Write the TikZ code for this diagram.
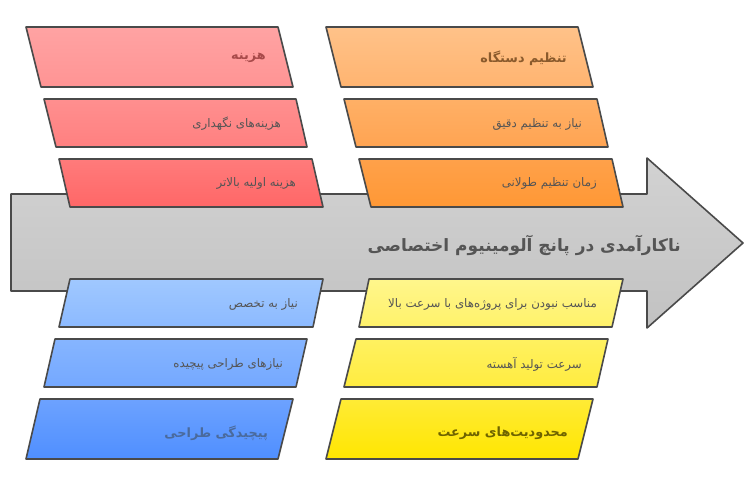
\documentclass[tikz,border=0pt]{standalone}
\usepackage{fontspec}
\TeXXeTstate=1
\newfontfamily\arabicfont[Script=Arabic]{DejaVu Sans}
\definecolor{edge}{HTML}{4A4A4A}
\definecolor{redA}{HTML}{FFA3A3}\definecolor{redB}{HTML}{FF9494}
\definecolor{redC}{HTML}{FF8F8F}\definecolor{redD}{HTML}{FF8080}
\definecolor{redE}{HTML}{FF7B7B}\definecolor{redF}{HTML}{FF6767}
\definecolor{orA}{HTML}{FFC289}\definecolor{orB}{HTML}{FFB470}
\definecolor{orC}{HTML}{FFB066}\definecolor{orD}{HTML}{FFA452}
\definecolor{orE}{HTML}{FFA14A}\definecolor{orF}{HTML}{FF9835}
\definecolor{blA}{HTML}{A0C8FF}\definecolor{blB}{HTML}{8CBAFF}
\definecolor{blC}{HTML}{86B5FF}\definecolor{blD}{HTML}{74A8FF}
\definecolor{blE}{HTML}{6DA2FF}\definecolor{blF}{HTML}{4F8FFF}
\definecolor{yeA}{HTML}{FFF68C}\definecolor{yeB}{HTML}{FFF26A}
\definecolor{yeC}{HTML}{FFF160}\definecolor{yeD}{HTML}{FFEC40}
\definecolor{yeE}{HTML}{FFEB36}\definecolor{yeF}{HTML}{FFE600}
\definecolor{grA}{HTML}{D2D2D2}\definecolor{grB}{HTML}{C2C2C2}
\definecolor{redT}{HTML}{A84A4A}\definecolor{orT}{HTML}{8A5A2C}
\definecolor{blT}{HTML}{4A6A9C}\definecolor{yeT}{HTML}{6E6300}
\definecolor{smallT}{HTML}{555555}
\tikzset{
  box/.style={draw=edge, line width=1.6pt, line join=round},
  small/.style={anchor=east, inner sep=0pt, text=smallT, font=\arabicfont\fontsize{11.8}{13}\selectfont},
  title/.style={anchor=east, inner sep=0pt, font=\arabicfont\bfseries\fontsize{12.8}{15}\selectfont},
  main/.style={anchor=east, inner sep=0pt, text=smallT, font=\arabicfont\bfseries\fontsize{17}{20}\selectfont}
}
\begin{document}
\begin{tikzpicture}[x=1pt,y=-1pt]
\useasboundingbox (0,0) rectangle (746,481);
% main arrow
\path[box, top color=grA, bottom color=grB]
  (11,194) -- (647,194) -- (647,158) -- (743,243) -- (647,328) -- (647,291) -- (11,291) -- cycle;
\node[main] (mainT) at (681,245) {\beginR ناکارآمدی در پانچ آلومینیوم اختصاصی\endR};
% red column
\path[box, top color=redA, bottom color=redB] (26,27) -- (278,27) -- (293,87) -- (41,87) -- cycle;
\path[box, top color=redC, bottom color=redD] (44,99) -- (296,99) -- (307,147) -- (56,147) -- cycle;
\path[box, top color=redE, bottom color=redF] (59,159) -- (312,159) -- (323,207) -- (70,207) -- cycle;
\node[title, text=redT] (r1) at (266,58) {\beginR هزینه\endR};
\node[small] (r2) at (281,124) {\beginR هزینه‌های نگهداری\endR};
\node[small] (r3) at (296,183) {\beginR هزینه اولیه بالاتر\endR};
% orange column
\path[box, top color=orA, bottom color=orB] (326,27) -- (578,27) -- (593,87) -- (341,87) -- cycle;
\path[box, top color=orC, bottom color=orD] (344,99) -- (597,99) -- (608,147) -- (356,147) -- cycle;
\path[box, top color=orE, bottom color=orF] (359,159) -- (612,159) -- (623,207) -- (371,207) -- cycle;
\node[title, text=orT] (o1) at (567,58) {\beginR تنظیم دستگاه\endR};
\node[small] (o2) at (582,124) {\beginR نیاز به تنظیم دقیق\endR};
\node[small] (o3) at (597,183) {\beginR زمان تنظیم طولانی\endR};
% blue column
\path[box, top color=blA, bottom color=blB] (70,279) -- (323,279) -- (313,327) -- (59,327) -- cycle;
\path[box, top color=blC, bottom color=blD] (55,339) -- (307,339) -- (296,387) -- (44,387) -- cycle;
\path[box, top color=blE, bottom color=blF] (40,399) -- (293,399) -- (278,459) -- (26,459) -- cycle;
\node[small] (b1) at (298,304) {\beginR نیاز به تخصص\endR};
\node[small] (b2) at (283,364) {\beginR نیازهای طراحی پیچیده\endR};
\node[title, text=blT] (b3) at (268,433) {\beginR پیچیدگی طراحی\endR};
% yellow column
\path[box, top color=yeA, bottom color=yeB] (369,279) -- (623,279) -- (612,327) -- (359,327) -- cycle;
\path[box, top color=yeC, bottom color=yeD] (356,339) -- (608,339) -- (597,387) -- (344,387) -- cycle;
\path[box, top color=yeE, bottom color=yeF] (341,399) -- (593,399) -- (578,459) -- (326,459) -- cycle;
\node[small] (y1) at (597,304) {\beginR مناسب نبودن برای پروژه‌های با سرعت بالا\endR};
\node[small] (y2) at (582,364) {\beginR سرعت تولید آهسته\endR};
\node[title, text=yeT] (y3) at (568,433) {\beginR محدودیت‌های سرعت\endR};
\end{tikzpicture}
\end{document}
